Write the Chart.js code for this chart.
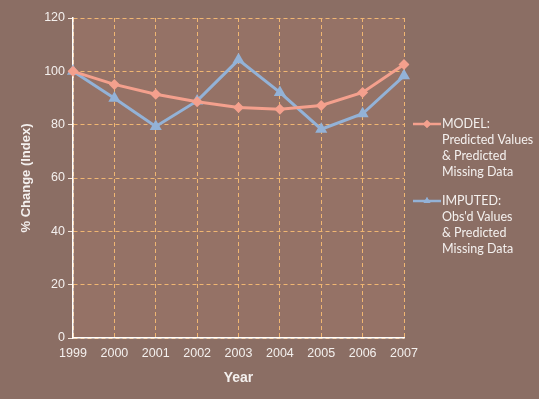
<!DOCTYPE html>
<html>
<head>
<meta charset="utf-8">
<script src="https://cdn.jsdelivr.net/npm/chart.js@4.4.1/dist/chart.umd.min.js"></script>
<style>
  html, body { margin: 0; padding: 0; background: #8b6e64; }
  #wrap { position: relative; width: 539px; height: 399px; }
</style>
</head>
<body>
<div id="wrap"><canvas id="chart" width="539" height="399"></canvas></div>
<script>
const years = ['1999', '2000', '2001', '2002', '2003', '2004', '2005', '2006', '2007'];
const modelValues = [100, 95.1, 91.4, 88.6, 86.4, 85.8, 87.2, 92.1, 102.6];
const imputedValues = [100, 89.9, 79.3, 88.9, 104.3, 92.1, 78.3, 84.1, 98.3];
const modelLabel = ['MODEL:', 'Predicted Values', '& Predicted', 'Missing Data'];
const imputedLabel = ['IMPUTED:', "Obs'd Values", '& Predicted', 'Missing Data'];

const pink = '#f4a08d';
const blue = '#93b2d7';
const gridColor = '#f0b672';
const textColor = '#f4f0ee';

// lighter plot area
const plotBg = {
  id: 'plotBg',
  beforeDraw(chart) {
    const { ctx, chartArea: a } = chart;
    ctx.save();
    ctx.fillStyle = '#957266';
    ctx.fillRect(a.left, a.top, a.right - a.left, a.bottom - a.top);
    ctx.restore();
  }
};

// legend on the right, multi-line entries
const sideLegend = {
  id: 'sideLegend',
  afterDraw(chart) {
    const ctx = chart.ctx;
    const entries = [[0, modelLabel, 124], [1, imputedLabel, 201]];
    ctx.save();
    ctx.font = '12.5px Lato';
    ctx.textBaseline = 'middle';
    entries.forEach(([i, lines, y]) => {
      const ds = chart.data.datasets[i];
      ctx.strokeStyle = ds.borderColor;
      ctx.lineWidth = 2.5;
      ctx.beginPath();
      ctx.moveTo(413, y);
      ctx.lineTo(441, y);
      ctx.stroke();
      ctx.fillStyle = ds.borderColor;
      Chart.helpers.drawPoint(ctx, {
        pointStyle: ds.pointStyle, radius: 4, borderWidth: 0
      }, 427, y);
      ctx.fill();
      ctx.fillStyle = textColor;
      lines.forEach((t, k) => ctx.fillText(t, 442, y + k * 16));
    });
    ctx.restore();
  }
};

new Chart(document.getElementById('chart'), {
  type: 'line',
  data: {
    labels: years,
    datasets: [
      {
        label: 'MODEL',
        data: modelValues,
        borderColor: pink,
        backgroundColor: pink,
        borderWidth: 3,
        pointStyle: 'rectRot',
        pointRadius: 5.5,
        pointBorderWidth: 0,
        tension: 0
      },
      {
        label: 'IMPUTED',
        data: imputedValues,
        borderColor: blue,
        backgroundColor: blue,
        borderWidth: 3,
        pointStyle: 'triangle',
        pointRadius: 7,
        pointBorderWidth: 0,
        tension: 0
      }
    ]
  },
  options: {
    responsive: false,
    animation: false,
    layout: { padding: { left: 15, top: 18, right: 135, bottom: 8 } },
    plugins: { legend: { display: false }, tooltip: { enabled: false } },
    scales: {
      x: {
        offset: false,
        afterFit: (s) => { s.height = 53; },
        grid: {
          color: gridColor,
          lineWidth: 1,
          drawTicks: false
        },
        border: { color: '#ffffff', width: 1.5, dash: [4, 3] },
        ticks: {
          color: textColor,
          padding: 8,
          maxRotation: 0,
          font: { family: 'Liberation Sans', size: 12.5 }
        },
        title: {
          display: true,
          text: 'Year',
          color: textColor,
          font: { family: 'Liberation Sans', size: 14, weight: 'bold' }
        }
      },
      y: {
        min: 0,
        max: 120,
        afterFit: (s) => { s.width = 58; },
        grid: {
          color: gridColor,
          lineWidth: 1,
          tickLength: 5,
          tickColor: '#f4e6dc',
          tickBorderDash: []
        },
        border: { color: '#ffffff', width: 1.5, dash: [4, 3] },
        ticks: {
          stepSize: 20,
          color: textColor,
          padding: 3,
          font: { family: 'Liberation Sans', size: 12.5 }
        },
        title: {
          display: true,
          text: '% Change (Index)',
          color: textColor,
          font: { family: 'Liberation Sans', size: 13, weight: 'bold' }
        }
      }
    }
  },
  plugins: [plotBg, sideLegend]
});
</script>
</body>
</html>
